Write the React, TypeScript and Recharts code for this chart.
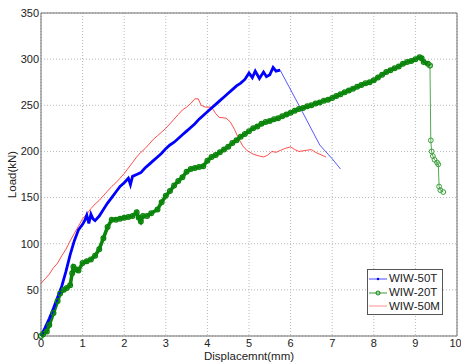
import React from 'react';
import { LineChart, Line, XAxis, YAxis, CartesianGrid, Legend, ReferenceArea } from 'recharts';

const xTicks = [0, 1, 2, 3, 4, 5, 6, 7, 8, 9, 10];
const yTicks = [0, 50, 100, 150, 200, 250, 300, 350];
const seriesNames = ['WIW-50T', 'WIW-20T', 'WIW-50M'];

// WIW-50T (blue): dense thick part, then sparse thin descent
const wiw50TMain = [
  { x: 0, y: 0 }, { x: 0.1, y: 9 }, { x: 0.2, y: 19 }, { x: 0.3, y: 30 }, { x: 0.4, y: 42 },
  { x: 0.5, y: 54 }, { x: 0.6, y: 70 }, { x: 0.7, y: 88 }, { x: 0.8, y: 103 }, { x: 0.9, y: 115 },
  { x: 1.0, y: 121 }, { x: 1.05, y: 125 }, { x: 1.1, y: 131 }, { x: 1.15, y: 122 }, { x: 1.2, y: 132 },
  { x: 1.25, y: 127 }, { x: 1.3, y: 125 }, { x: 1.4, y: 130 }, { x: 1.5, y: 137 }, { x: 1.6, y: 144 },
  { x: 1.7, y: 150 }, { x: 1.8, y: 156 }, { x: 1.9, y: 162 }, { x: 2.0, y: 166 }, { x: 2.1, y: 171 },
  { x: 2.15, y: 164 }, { x: 2.2, y: 173 }, { x: 2.3, y: 175 }, { x: 2.4, y: 177 }, { x: 2.5, y: 182 },
  { x: 2.6, y: 186 }, { x: 2.7, y: 190 }, { x: 2.8, y: 194 }, { x: 2.9, y: 198 }, { x: 3.0, y: 203 },
  { x: 3.1, y: 207 }, { x: 3.2, y: 210 }, { x: 3.3, y: 214 }, { x: 3.4, y: 218 }, { x: 3.5, y: 222 },
  { x: 3.6, y: 226 }, { x: 3.7, y: 230 }, { x: 3.8, y: 235 }, { x: 3.9, y: 239 }, { x: 4.0, y: 243 },
  { x: 4.1, y: 247 }, { x: 4.2, y: 251 }, { x: 4.3, y: 255 }, { x: 4.4, y: 259 }, { x: 4.5, y: 263 },
  { x: 4.6, y: 267 }, { x: 4.7, y: 271 }, { x: 4.8, y: 274 }, { x: 4.9, y: 278 }, { x: 5.0, y: 285 },
  { x: 5.08, y: 280 }, { x: 5.15, y: 287 }, { x: 5.25, y: 279 }, { x: 5.35, y: 286 }, { x: 5.42, y: 281 },
  { x: 5.5, y: 283 }, { x: 5.58, y: 291 }, { x: 5.65, y: 287 }, { x: 5.75, y: 288 },
];
const wiw50TTail = [
  { x: 5.75, y: 288 }, { x: 6.2, y: 250 }, { x: 6.7, y: 207 }, { x: 7.0, y: 192 }, { x: 7.2, y: 181 },
];

// WIW-20T (green): dense thick part, then sparse drop
const wiw20TMain = [
  { x: 0, y: 0 }, { x: 0.05, y: 2 }, { x: 0.14, y: 5 }, { x: 0.2, y: 12 }, { x: 0.3, y: 25 },
  { x: 0.4, y: 38 }, { x: 0.46, y: 46 }, { x: 0.55, y: 50 }, { x: 0.62, y: 52 }, { x: 0.7, y: 55 },
  { x: 0.75, y: 68 }, { x: 0.78, y: 75 }, { x: 0.85, y: 72 }, { x: 0.9, y: 71 }, { x: 1.0, y: 79 },
  { x: 1.1, y: 81 }, { x: 1.2, y: 83 }, { x: 1.3, y: 87 }, { x: 1.4, y: 94 }, { x: 1.5, y: 106 },
  { x: 1.6, y: 118 }, { x: 1.7, y: 126 }, { x: 1.8, y: 126 }, { x: 1.9, y: 127 }, { x: 2.0, y: 128 },
  { x: 2.1, y: 129 }, { x: 2.2, y: 130 }, { x: 2.3, y: 134 }, { x: 2.35, y: 128 }, { x: 2.4, y: 124 },
  { x: 2.45, y: 130 }, { x: 2.55, y: 130 }, { x: 2.65, y: 133 }, { x: 2.8, y: 137 }, { x: 2.9, y: 145 },
  { x: 3.0, y: 152 }, { x: 3.1, y: 157 }, { x: 3.2, y: 163 }, { x: 3.3, y: 168 }, { x: 3.4, y: 172 },
  { x: 3.5, y: 178 }, { x: 3.6, y: 181 }, { x: 3.7, y: 182 }, { x: 3.8, y: 183 }, { x: 3.9, y: 184 },
  { x: 4.0, y: 190 }, { x: 4.1, y: 194 }, { x: 4.2, y: 196 }, { x: 4.3, y: 199 }, { x: 4.4, y: 202 },
  { x: 4.5, y: 205 }, { x: 4.6, y: 209 }, { x: 4.7, y: 212 }, { x: 4.8, y: 216 }, { x: 4.9, y: 219 },
  { x: 5.0, y: 222 }, { x: 5.1, y: 225 }, { x: 5.2, y: 227 }, { x: 5.3, y: 230 }, { x: 5.4, y: 232 },
  { x: 5.5, y: 233 }, { x: 5.6, y: 235 }, { x: 5.7, y: 236 }, { x: 5.8, y: 238 }, { x: 5.9, y: 240 },
  { x: 6.0, y: 242 }, { x: 6.1, y: 244 }, { x: 6.2, y: 246 }, { x: 6.3, y: 247 }, { x: 6.4, y: 249 },
  { x: 6.5, y: 250 }, { x: 6.6, y: 252 }, { x: 6.7, y: 253 }, { x: 6.8, y: 255 }, { x: 6.9, y: 256 },
  { x: 7.0, y: 258 }, { x: 7.1, y: 260 }, { x: 7.2, y: 262 }, { x: 7.3, y: 264 }, { x: 7.4, y: 266 },
  { x: 7.5, y: 268 }, { x: 7.6, y: 270 }, { x: 7.7, y: 272 }, { x: 7.8, y: 274 }, { x: 7.9, y: 275 },
  { x: 8.0, y: 277 }, { x: 8.1, y: 280 }, { x: 8.2, y: 283 }, { x: 8.3, y: 286 }, { x: 8.4, y: 288 },
  { x: 8.5, y: 290 }, { x: 8.6, y: 292 }, { x: 8.7, y: 295 }, { x: 8.8, y: 297 }, { x: 8.9, y: 298 },
  { x: 9.0, y: 300 }, { x: 9.1, y: 302 }, { x: 9.15, y: 301 }, { x: 9.2, y: 297 }, { x: 9.3, y: 295 },
  { x: 9.35, y: 293 },
];
const wiw20TTail = [
  { x: 9.35, y: 293 }, { x: 9.37, y: 212 }, { x: 9.39, y: 200 }, { x: 9.42, y: 195 }, { x: 9.46, y: 191 },
  { x: 9.52, y: 188 }, { x: 9.55, y: 186 }, { x: 9.57, y: 162 }, { x: 9.6, y: 158 }, { x: 9.67, y: 156 },
];

// WIW-50M (red): thin line
const wiw50M = [
  { x: 0, y: 57 }, { x: 0.1, y: 62 }, { x: 0.2, y: 67 }, { x: 0.3, y: 74 }, { x: 0.4, y: 79 },
  { x: 0.5, y: 87 }, { x: 0.6, y: 94 }, { x: 0.7, y: 103 }, { x: 0.8, y: 111 }, { x: 0.9, y: 119 },
  { x: 1.0, y: 127 }, { x: 1.1, y: 132 }, { x: 1.2, y: 138 }, { x: 1.3, y: 143 }, { x: 1.4, y: 147 },
  { x: 1.5, y: 152 }, { x: 1.6, y: 157 }, { x: 1.7, y: 162 }, { x: 1.8, y: 166 }, { x: 1.9, y: 171 },
  { x: 2.0, y: 176 }, { x: 2.1, y: 182 }, { x: 2.2, y: 188 }, { x: 2.3, y: 194 }, { x: 2.4, y: 199 },
  { x: 2.5, y: 203 }, { x: 2.6, y: 208 }, { x: 2.7, y: 213 }, { x: 2.8, y: 217 }, { x: 2.9, y: 221 },
  { x: 3.0, y: 225 }, { x: 3.1, y: 230 }, { x: 3.2, y: 235 }, { x: 3.3, y: 240 }, { x: 3.4, y: 245 },
  { x: 3.5, y: 248 }, { x: 3.6, y: 252 }, { x: 3.7, y: 257 }, { x: 3.78, y: 257 }, { x: 3.85, y: 250 },
  { x: 3.95, y: 248 }, { x: 4.1, y: 248 }, { x: 4.2, y: 241 }, { x: 4.28, y: 237 }, { x: 4.45, y: 236 },
  { x: 4.55, y: 232 }, { x: 4.65, y: 224 }, { x: 4.75, y: 214 }, { x: 4.85, y: 206 }, { x: 4.95, y: 201 },
  { x: 5.1, y: 197 }, { x: 5.25, y: 195 }, { x: 5.35, y: 194 }, { x: 5.45, y: 196 }, { x: 5.55, y: 200 },
  { x: 5.65, y: 199 }, { x: 5.75, y: 201 }, { x: 5.85, y: 203 }, { x: 6.0, y: 205 }, { x: 6.1, y: 202 },
  { x: 6.2, y: 200 }, { x: 6.35, y: 201 }, { x: 6.5, y: 202 }, { x: 6.6, y: 199 }, { x: 6.75, y: 196 },
  { x: 6.85, y: 194 },
];

const BLUE = '#0000ff';
const GREEN = '#0b850b';
const RED = '#ff2020';
const FONT = '"Liberation Sans", Arial, Helvetica, sans-serif';
const AXIS = '#6e6e6e';

const legendColors = ['#4a4aff', '#3a9a3a', '#ff9090'];

const renderLegend = () => (
  <div
    style={{
      width: 76,
      height: 46,
      border: '1px solid #555',
      background: '#fff',
      boxSizing: 'border-box',
      fontFamily: FONT,
      fontSize: 11.5,
      color: '#222',
      paddingTop: 2,
    }}
  >
    {seriesNames.map((name, i) => (
      <div key={name} style={{ display: 'flex', alignItems: 'center', height: 13.7 }}>
        <svg width={20} height={10} style={{ display: 'block' }}>
          <line x1={1} y1={5} x2={19} y2={5} stroke={legendColors[i]} strokeWidth={1} />
          {i === 0 && <circle cx={10} cy={5} r={1.2} fill={BLUE} />}
          {i === 1 && <circle cx={10} cy={5} r={2} fill="none" stroke={GREEN} strokeWidth={1} />}
        </svg>
        <span style={{ marginLeft: 1, lineHeight: '13px' }}>{name}</span>
      </div>
    ))}
  </div>
);

export default function App() {
  const tickStyle = { fontFamily: FONT, fontSize: 11, fill: '#222' };
  return (
    <div style={{ position: 'absolute', left: 0, top: 0, width: 461, height: 362, background: '#fff' }}>
      <LineChart width={461} height={362} margin={{ top: 13, right: 4, left: 0, bottom: 0 }}>
        <CartesianGrid stroke="#b8b8b8" strokeDasharray="1 2" strokeWidth={1} />
        <XAxis
          xAxisId="tb"
          orientation="bottom"
          mirror
          height={1}
          type="number"
          domain={[0, 10]}
          ticks={xTicks}
          tick={false}
          tickSize={4}
          axisLine={false}
          tickLine={{ stroke: AXIS }}
        />
        <XAxis
          dataKey="x"
          type="number"
          domain={[0, 10]}
          ticks={xTicks}
          height={26}
          axisLine={false}
          tickLine={false}
          tickSize={3}
          tickMargin={0}
          tick={tickStyle}
          label={{ value: 'Displacemnt(mm)', position: 'insideBottom', offset: 2, style: { fontFamily: FONT, fontSize: 11.5, fill: '#222' } }}
        />
        <XAxis
          xAxisId="tt"
          orientation="top"
          mirror
          height={1}
          type="number"
          domain={[0, 10]}
          ticks={xTicks}
          tick={false}
          tickSize={4}
          axisLine={false}
          tickLine={{ stroke: AXIS }}
        />
        <YAxis
          yAxisId="tl"
          orientation="left"
          mirror
          width={1}
          type="number"
          domain={[0, 350]}
          ticks={yTicks}
          tick={false}
          tickSize={4}
          axisLine={false}
          tickLine={{ stroke: AXIS }}
        />
        <YAxis
          type="number"
          domain={[0, 350]}
          ticks={yTicks}
          width={41}
          axisLine={false}
          tickLine={false}
          tickSize={2}
          tickMargin={0}
          tick={tickStyle}
          label={{ value: 'Load(kN)', angle: -90, position: 'insideLeft', offset: 12, style: { textAnchor: 'middle', fontFamily: FONT, fontSize: 11.5, fill: '#222' } }}
        />
        <YAxis
          yAxisId="tr"
          orientation="right"
          mirror
          width={1}
          type="number"
          domain={[0, 350]}
          ticks={yTicks}
          tick={false}
          tickSize={4}
          axisLine={false}
          tickLine={{ stroke: AXIS }}
        />
        <ReferenceArea x1={0} x2={10} y1={0} y2={350} fill="none" stroke={AXIS} strokeWidth={1} ifOverflow="visible" />
        <Line data={wiw50M} dataKey="y" name={seriesNames[2]} stroke={RED} strokeWidth={0.8} dot={false} isAnimationActive={false} />
        <Line data={wiw20TMain} dataKey="y" name={seriesNames[1]} stroke={GREEN} strokeWidth={3.6} dot={{ r: 2.4, stroke: GREEN, strokeWidth: 1.2, fill: 'none' }} isAnimationActive={false} />
        <Line data={wiw20TTail} dataKey="y" name="tail20" legendType="none" stroke="#3aa03a" strokeWidth={0.9} dot={{ r: 2.4, stroke: '#3aa03a', strokeWidth: 1, fill: 'none' }} isAnimationActive={false} />
        <Line data={wiw50TMain} dataKey="y" name={seriesNames[0]} stroke={BLUE} strokeWidth={2.8} dot={false} isAnimationActive={false} />
        <Line data={wiw50TTail} dataKey="y" name="tail50" legendType="none" stroke="#4444ff" strokeWidth={0.9} dot={false} isAnimationActive={false} />
        <Legend
          layout="vertical"
          align="center"
          verticalAlign="middle"
          content={renderLegend}
          wrapperStyle={{ left: 367, top: 269, width: 76, height: 46 }}
        />
      </LineChart>
    </div>
  );
}
